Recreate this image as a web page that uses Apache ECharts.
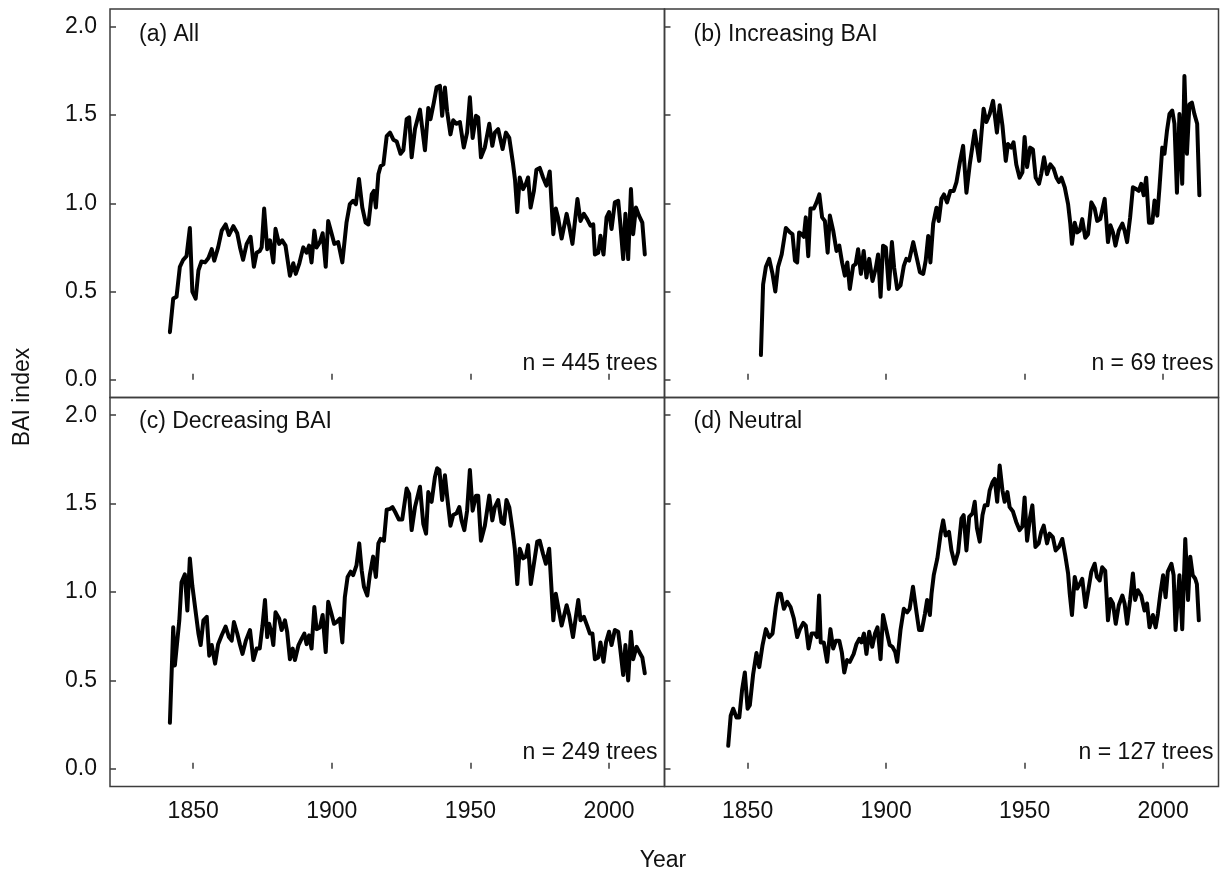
<!DOCTYPE html>
<html>
<head>
<meta charset="utf-8">
<script src="https://cdn.jsdelivr.net/npm/echarts@6/dist/echarts.min.js"></script>
<style>
  html, body { margin: 0; padding: 0; background: #fff; }
  #chart { width: 1222px; height: 876px; }
</style>
</head>
<body>
<div id="chart"></div>
<script>
// Basal area increment (BAI) index chronologies, 1842-2013

// (a) All trees
const yearsAll = [1841.6,1842.8,1844.0,1845.2,1846.4,1847.6,1848.2,1848.8,1849.7,1850.9,1851.9,1853.0,1854.3,1855.5,1856.7,1857.6,1859.0,1860.3,1861.7,1862.9,1864.5,1865.9,1866.9,1868.0,1869.3,1870.7,1871.9,1872.9,1874.0,1874.7,1875.6,1876.7,1877.7,1878.9,1879.7,1881.0,1882.1,1883.3,1884.9,1886.1,1887.0,1888.3,1889.7,1890.9,1891.8,1892.7,1893.7,1894.5,1895.7,1896.7,1897.8,1898.7,1899.9,1900.9,1902.3,1903.8,1905.3,1906.5,1907.7,1908.7,1909.8,1911.0,1912.2,1913.2,1914.4,1915.2,1915.9,1916.8,1917.6,1918.6,1919.8,1921.0,1922.2,1923.4,1924.8,1925.8,1927.0,1927.9,1928.8,1930.0,1931.8,1933.6,1934.8,1935.6,1936.8,1937.8,1939.0,1939.8,1940.8,1941.6,1942.8,1943.8,1945.0,1946.2,1947.6,1948.8,1949.8,1950.8,1952.0,1952.8,1953.8,1955.2,1956.8,1957.9,1958.8,1960.0,1961.6,1962.8,1964.0,1965.4,1966.1,1966.9,1967.8,1969.0,1970.0,1970.8,1971.7,1972.9,1973.8,1975.0,1976.2,1977.4,1978.6,1979.9,1980.8,1981.6,1982.9,1984.7,1985.6,1986.8,1988.6,1989.7,1990.9,1992.1,1993.3,1994.3,1994.9,1996.1,1996.9,1998.0,1999.1,2000.0,2000.9,2002.1,2003.3,2004.1,2005.1,2005.9,2006.9,2007.9,2008.7,2009.7,2010.8,2012.0,2012.9];
const baiAll = [0.27,0.46,0.47,0.64,0.68,0.70,0.69,0.86,0.50,0.46,0.62,0.67,0.665,0.69,0.74,0.675,0.75,0.845,0.88,0.82,0.87,0.83,0.75,0.68,0.77,0.81,0.64,0.72,0.73,0.75,0.97,0.74,0.79,0.665,0.855,0.77,0.79,0.76,0.59,0.66,0.60,0.66,0.75,0.72,0.76,0.665,0.845,0.75,0.78,0.83,0.64,0.90,0.83,0.77,0.78,0.665,0.89,0.995,1.014,0.995,1.137,0.976,0.89,0.88,1.05,1.07,0.976,1.165,1.21,1.22,1.38,1.40,1.36,1.35,1.28,1.30,1.476,1.486,1.26,1.42,1.53,1.30,1.54,1.476,1.57,1.656,1.665,1.495,1.656,1.52,1.39,1.47,1.45,1.46,1.316,1.40,1.60,1.37,1.495,1.486,1.26,1.316,1.45,1.325,1.40,1.42,1.307,1.40,1.37,1.22,1.13,0.95,1.146,1.08,1.11,1.146,0.976,1.07,1.19,1.20,1.146,1.10,1.18,0.825,0.97,0.92,0.80,0.94,0.873,0.77,1.024,0.90,0.94,0.91,0.873,0.88,0.71,0.72,0.816,0.71,0.92,0.95,0.854,1.005,1.014,0.88,0.684,0.94,0.684,1.08,0.825,0.976,0.93,0.89,0.71];

// (b) Increasing BAI
const yearsInc = [1854.8,1855.6,1856.6,1857.8,1859.0,1860.0,1861.0,1862.3,1863.0,1863.8,1865.3,1866.2,1867.1,1867.9,1868.6,1869.5,1870.3,1871.0,1871.9,1872.7,1873.9,1874.9,1875.9,1876.9,1877.9,1878.9,1879.7,1880.9,1882.1,1883.1,1884.1,1885.1,1886.0,1886.9,1888.1,1889.0,1889.9,1890.9,1891.9,1892.9,1893.9,1895.1,1896.3,1897.1,1898.0,1898.9,1899.9,1901.0,1902.1,1902.9,1904.0,1905.2,1906.4,1907.3,1908.3,1909.8,1911.0,1912.2,1913.4,1914.3,1915.2,1916.0,1917.0,1918.2,1919.0,1920.0,1920.9,1922.0,1923.2,1924.4,1925.4,1926.6,1927.8,1929.0,1930.2,1932.0,1933.6,1934.4,1935.2,1936.2,1937.4,1938.6,1939.2,1940.0,1941.0,1942.0,1943.2,1944.0,1945.2,1946.0,1947.0,1948.2,1949.2,1950.0,1950.9,1952.0,1953.0,1954.0,1955.2,1956.0,1957.0,1958.1,1959.3,1960.5,1961.5,1962.4,1963.3,1964.5,1965.7,1966.5,1967.1,1968.1,1969.0,1969.9,1970.8,1971.9,1972.9,1974.1,1975.3,1976.2,1977.3,1978.9,1980.1,1981.0,1981.9,1982.8,1984.0,1985.3,1986.1,1987.0,1988.1,1989.1,1990.3,1991.2,1992.1,1993.0,1993.9,1994.9,1996.1,1996.9,1997.9,1998.7,1999.7,2000.5,2001.4,2002.3,2003.3,2004.1,2005.0,2005.9,2006.9,2007.7,2008.6,2009.5,2010.4,2011.3,2012.3,2013.1];
const baiInc = [0.14,0.54,0.64,0.685,0.60,0.50,0.64,0.71,0.72,0.86,0.835,0.825,0.675,0.665,0.835,0.825,0.81,0.92,0.70,0.97,0.97,1.005,1.05,0.92,0.90,0.72,0.93,0.845,0.73,0.76,0.665,0.59,0.665,0.515,0.645,0.655,0.74,0.60,0.73,0.58,0.685,0.56,0.635,0.71,0.47,0.76,0.75,0.515,0.78,0.635,0.515,0.535,0.645,0.685,0.675,0.78,0.695,0.61,0.60,0.675,0.815,0.665,0.885,0.975,0.90,1.025,1.05,1.005,1.07,1.07,1.12,1.23,1.325,1.06,1.22,1.41,1.24,1.39,1.535,1.46,1.505,1.58,1.58,1.40,1.555,1.44,1.24,1.335,1.315,1.345,1.22,1.145,1.175,1.375,1.205,1.315,1.305,1.145,1.11,1.165,1.26,1.165,1.22,1.195,1.145,1.12,1.145,1.09,0.995,0.885,0.77,0.89,0.835,0.845,0.91,0.805,0.825,1.005,0.97,0.90,0.91,1.025,0.78,0.875,0.835,0.76,0.845,0.885,0.845,0.78,0.92,1.09,1.08,1.07,1.11,1.045,1.145,0.89,0.89,1.015,0.93,1.09,1.315,1.28,1.41,1.505,1.525,1.45,1.06,1.505,1.11,1.72,1.28,1.56,1.57,1.505,1.45,1.045];

// (c) Decreasing BAI
const yearsDec = [1841.6,1842.8,1843.4,1844.0,1845.0,1845.8,1847.0,1847.9,1848.8,1849.7,1851.0,1851.9,1852.7,1853.7,1854.9,1855.8,1856.7,1857.9,1859.0,1860.3,1861.7,1862.9,1863.9,1864.7,1865.9,1866.9,1867.8,1869.0,1870.5,1871.7,1872.9,1874.0,1875.0,1875.9,1876.7,1877.4,1878.3,1878.9,1879.7,1881.0,1881.9,1883.1,1883.9,1884.9,1885.9,1886.7,1888.0,1889.1,1890.1,1890.9,1891.8,1892.7,1893.7,1894.5,1895.7,1896.7,1897.8,1898.7,1899.9,1900.8,1901.7,1902.9,1903.8,1904.7,1905.7,1906.8,1907.7,1908.9,1909.9,1910.8,1911.6,1912.8,1913.7,1914.9,1915.9,1916.8,1917.6,1918.8,1919.8,1921.0,1921.9,1923.1,1924.2,1925.4,1927.0,1927.9,1928.8,1930.0,1931.8,1933.0,1934.0,1934.8,1936.0,1937.2,1938.0,1938.8,1939.8,1940.8,1941.6,1942.8,1943.8,1945.0,1946.0,1946.8,1947.8,1948.8,1949.8,1950.8,1952.0,1952.8,1953.8,1955.2,1956.8,1957.9,1958.8,1960.0,1961.2,1962.1,1963.0,1964.0,1965.2,1966.0,1966.9,1967.8,1969.0,1970.0,1970.8,1971.8,1972.9,1974.1,1975.0,1976.2,1977.2,1978.4,1979.0,1979.9,1980.8,1981.9,1982.9,1984.7,1985.6,1987.0,1988.9,1989.7,1990.9,1992.1,1993.1,1994.0,1994.9,1996.1,1996.9,1998.0,1998.9,2000.0,2000.9,2002.1,2003.3,2004.1,2005.1,2005.9,2006.9,2007.9,2008.7,2009.9,2011.1,2012.0,2012.9];
const baiDec = [0.26,0.80,0.585,0.585,0.84,1.055,1.10,0.895,1.19,1.035,0.875,0.765,0.70,0.84,0.86,0.64,0.70,0.595,0.705,0.755,0.805,0.745,0.725,0.83,0.765,0.70,0.65,0.725,0.785,0.615,0.68,0.68,0.81,0.955,0.745,0.82,0.765,0.70,0.885,0.85,0.785,0.84,0.775,0.62,0.68,0.615,0.70,0.735,0.765,0.705,0.755,0.68,0.915,0.79,0.80,0.87,0.66,0.945,0.875,0.82,0.83,0.85,0.715,0.97,1.085,1.115,1.095,1.15,1.275,1.12,1.03,0.98,1.095,1.20,1.085,1.275,1.30,1.29,1.465,1.47,1.48,1.445,1.41,1.41,1.585,1.555,1.35,1.48,1.595,1.385,1.33,1.565,1.51,1.65,1.70,1.69,1.52,1.66,1.54,1.375,1.435,1.445,1.48,1.405,1.35,1.46,1.69,1.46,1.545,1.545,1.29,1.375,1.545,1.405,1.48,1.52,1.395,1.385,1.52,1.48,1.35,1.245,1.045,1.245,1.19,1.20,1.265,1.045,1.16,1.285,1.29,1.215,1.16,1.245,1.245,0.84,0.99,0.895,0.81,0.925,0.87,0.745,0.955,0.84,0.86,0.81,0.765,0.765,0.62,0.63,0.715,0.605,0.715,0.775,0.70,0.785,0.775,0.67,0.53,0.70,0.50,0.775,0.62,0.69,0.655,0.63,0.54];

// (d) Neutral
const yearsNeu = [1843.0,1843.9,1844.8,1846.0,1847.0,1848.0,1849.0,1850.0,1850.8,1852.0,1853.2,1854.2,1855.4,1856.6,1857.8,1859.0,1860.2,1861.0,1862.0,1863.1,1864.3,1865.5,1866.7,1867.9,1868.9,1870.1,1871.0,1872.0,1873.1,1874.3,1875.1,1875.8,1876.4,1877.5,1878.7,1879.9,1880.9,1881.9,1883.1,1884.0,1884.9,1885.9,1886.9,1888.3,1889.3,1890.3,1891.1,1892.0,1892.9,1893.9,1895.0,1896.0,1896.9,1898.0,1898.9,1900.1,1901.3,1902.3,1903.3,1904.0,1905.2,1906.4,1907.6,1908.5,1909.7,1910.7,1911.9,1912.9,1914.0,1914.8,1915.8,1916.4,1917.2,1918.5,1919.7,1920.6,1921.5,1922.7,1923.6,1924.8,1926.0,1927.2,1928.0,1929.0,1930.0,1931.2,1932.0,1932.8,1933.8,1934.8,1935.6,1936.6,1937.4,1938.4,1939.2,1940.1,1941.0,1942.0,1942.8,1943.8,1944.6,1945.8,1947.0,1948.2,1949.2,1950.0,1950.9,1952.0,1952.8,1953.9,1955.1,1956.0,1956.9,1958.1,1959.0,1960.2,1961.2,1962.4,1963.6,1964.7,1965.7,1966.3,1967.1,1968.1,1969.0,1969.9,1970.8,1972.0,1973.1,1974.1,1975.3,1976.1,1977.1,1978.0,1979.1,1980.1,1981.0,1981.9,1982.9,1984.0,1985.3,1986.1,1987.0,1988.1,1989.1,1989.9,1990.9,1992.1,1993.3,1994.2,1995.1,1996.3,1997.3,1998.1,1999.0,2000.0,2000.9,2001.7,2003.0,2003.8,2004.5,2005.3,2005.9,2006.9,2008.0,2009.0,2009.8,2010.7,2011.6,2012.2,2012.9];
const baiNeu = [0.13,0.30,0.34,0.29,0.29,0.445,0.545,0.34,0.36,0.535,0.655,0.575,0.70,0.79,0.745,0.765,0.915,0.99,0.99,0.905,0.945,0.915,0.85,0.745,0.79,0.825,0.81,0.68,0.765,0.765,0.745,0.98,0.715,0.715,0.605,0.79,0.68,0.725,0.725,0.66,0.545,0.615,0.605,0.65,0.705,0.735,0.715,0.765,0.65,0.775,0.69,0.765,0.80,0.62,0.87,0.785,0.70,0.69,0.66,0.605,0.785,0.905,0.885,0.905,1.03,0.915,0.785,0.785,0.875,0.955,0.87,0.99,1.095,1.19,1.33,1.405,1.32,1.34,1.235,1.16,1.225,1.415,1.435,1.235,1.425,1.445,1.51,1.36,1.285,1.435,1.49,1.49,1.575,1.62,1.64,1.51,1.715,1.575,1.51,1.565,1.48,1.455,1.395,1.35,1.37,1.535,1.29,1.425,1.49,1.255,1.275,1.34,1.375,1.275,1.33,1.31,1.235,1.255,1.30,1.205,1.105,0.99,0.87,1.085,1.02,1.045,1.075,0.915,1.02,1.115,1.16,1.085,1.065,1.14,1.12,0.84,0.96,0.935,0.82,0.925,0.98,0.935,0.82,0.955,1.105,0.955,1.01,0.98,0.895,0.935,0.80,0.87,0.80,0.875,0.99,1.095,0.97,1.115,1.16,1.095,0.785,0.97,1.095,0.79,1.30,0.955,1.20,1.095,1.075,1.045,0.84];

// Axis ticks and panel annotations
const yearTicks = [1850, 1900, 1950, 2000];
const indexTicks = [0, 0.5, 1.0, 1.5, 2.0];
const panelTitles = ['(a) All', '(b) Increasing BAI', '(c) Decreasing BAI', '(d) Neutral'];
const treeCounts = [445, 69, 249, 127];
const panelYears = [yearsAll, yearsInc, yearsDec, yearsNeu];
const panelValues = [baiAll, baiInc, baiDec, baiNeu];

const FONT = '"Liberation Sans", Arial, sans-serif';
const FONT_SIZE = 23;
const TEXT_COLOR = '#111';
const AXIS_COLOR = '#3d3d3d';

// 2 x 2 panel layout sharing borders
const panelBoxes = [
  { left: 110,   top: 9,     width: 554.5, height: 388.5 },
  { left: 664.5, top: 9,     width: 554,   height: 388.5 },
  { left: 110,   top: 397.5, width: 554.5, height: 389 },
  { left: 664.5, top: 397.5, width: 554,   height: 389 }
];

const grids = panelBoxes.map(b => ({
  left: b.left, top: b.top, width: b.width, height: b.height,
  show: true, borderColor: AXIS_COLOR, borderWidth: 1.5, backgroundColor: 'transparent'
}));

const xAxes = panelBoxes.map((b, i) => ({
  type: 'value', gridIndex: i, min: 1820, max: 2020,
  splitLine: { show: false },
  axisLine: { show: false },
  axisTick: { show: true, inside: true, length: 6, customValues: yearTicks,
              lineStyle: { color: AXIS_COLOR, width: 1.5 } },
  axisLabel: { show: i >= 2, customValues: yearTicks, margin: 14,
               fontFamily: FONT, fontSize: FONT_SIZE, color: TEXT_COLOR,
               formatter: v => String(v) }
}));

const yAxes = panelBoxes.map((b, i) => ({
  type: 'value', gridIndex: i, min: -0.1, max: 2.1,
  splitLine: { show: false },
  axisLine: { show: false },
  axisTick: { show: true, inside: true, length: 6, customValues: indexTicks,
              lineStyle: { color: AXIS_COLOR, width: 1.5 } },
  axisLabel: { show: i % 2 === 0, customValues: indexTicks, margin: 13,
               fontFamily: FONT, fontSize: FONT_SIZE, color: TEXT_COLOR,
               formatter: v => v.toFixed(1) }
}));

const series = panelYears.map((yrs, i) => ({
  type: 'line', xAxisIndex: i, yAxisIndex: i,
  data: yrs.map((yr, k) => [yr, panelValues[i][k]]),
  showSymbol: false, symbol: 'none', silent: true,
  lineStyle: { color: '#000', width: 4, join: 'round', cap: 'round' },
  animation: false
}));

// Panel titles (top-left) and sample sizes (bottom-right)
const textFont = FONT_SIZE + 'px ' + FONT;
const graphics = [];
panelBoxes.forEach((b, i) => {
  graphics.push({
    type: 'text', x: b.left + 29, y: b.top + (i < 2 ? 26 : 24),
    style: { text: panelTitles[i], font: textFont, fill: TEXT_COLOR,
             textAlign: 'left', textVerticalAlign: 'middle' }
  });
  graphics.push({
    type: 'text', x: b.left + b.width - (i % 2 === 0 ? 7 : 5), y: b.top + b.height - 34,
    style: { text: 'n = ' + treeCounts[i] + ' trees', font: textFont, fill: TEXT_COLOR,
             textAlign: 'right', textVerticalAlign: 'middle' }
  });
});
graphics.push({
  type: 'text', x: 23, y: 397, rotation: Math.PI / 2,
  style: { text: 'BAI index', font: textFont, fill: TEXT_COLOR,
           textAlign: 'center', textVerticalAlign: 'middle' }
});
graphics.push({
  type: 'text', x: 663, y: 861,
  style: { text: 'Year', font: textFont, fill: TEXT_COLOR,
           textAlign: 'center', textVerticalAlign: 'middle' }
});

const chart = echarts.init(document.getElementById('chart'), null, { renderer: 'canvas' });
chart.setOption({
  backgroundColor: '#fff',
  animation: false,
  grid: grids,
  xAxis: xAxes,
  yAxis: yAxes,
  series: series,
  graphic: graphics
});
</script>
</body>
</html>
